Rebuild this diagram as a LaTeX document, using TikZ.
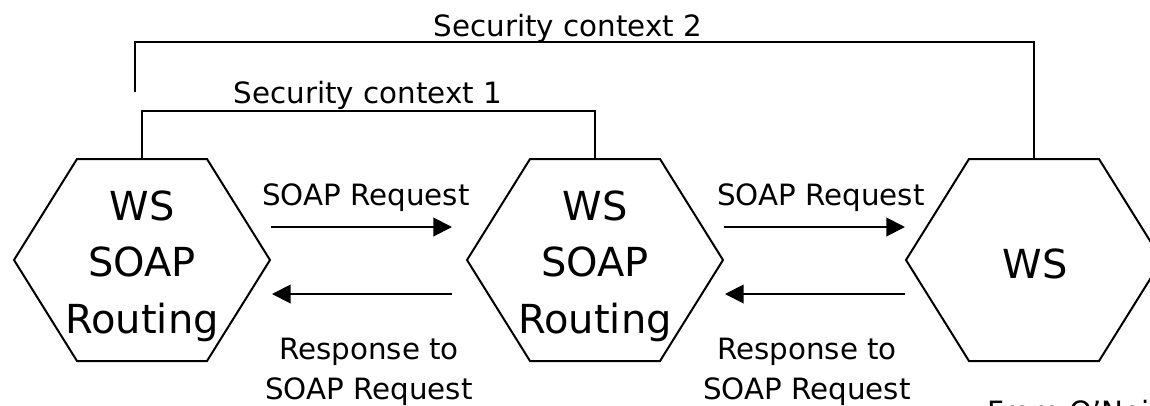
\documentclass[tikz,border=0pt]{standalone}
\usepackage{fontspec}
\setmainfont{DejaVu Sans}
\usetikzlibrary{arrows.meta,calc}
\begin{document}
\begin{tikzpicture}[x=0.75pt,y=-0.75pt,
  conn/.style={line width=1.5pt, line join=miter},
  hexline/.style={line width=1.5pt, line join=miter},
  hextext/.style={align=center, font=\fontsize{30}{42.4}\selectfont, inner sep=0pt},
  lbl/.style={font=\fontsize{22}{30}\selectfont, inner sep=0pt, align=center},
  flow/.style={line width=1.5pt, -{Triangle[length=14pt,width=14pt]}}]
\useasboundingbox (0,0) rectangle (1150,405);
% hexagon centres
\coordinate (c1) at (142,260);
\coordinate (c2) at (595,260);
\coordinate (c3) at (1034,260);
\foreach \c in {c1,c2,c3}
  \draw[hexline] ($(\c)+(-128,0)$) -- ++(63,-101) -- ++(130,0) -- ++(63,101)
     -- ++(-63,101) -- ++(-130,0) -- cycle;
\coordinate (top1) at ($(c1)+(0,-101)$);
\coordinate (top2) at ($(c2)+(0,-101)$);
\coordinate (top3) at ($(c3)+(0,-101)$);
% hexagon texts
\node[hextext] (t1) at (142,266) {WS\\SOAP\\Routing};
\node[hextext] (t2) at (595,266) {WS\\SOAP\\Routing};
\node[hextext, anchor=base] (t3) at (1035,278) {WS};
% security contexts
\coordinate (s2) at (135,92);
\draw[conn] (top1) -- ++(0,-48) -| (top2);
\draw[conn] (s2) -- ++(0,-50) -| (top3);
\node[lbl, anchor=base] (sc2) at (568,36) {Security context 2};
\node[lbl, anchor=base] (sc1) at (368,103) {Security context 1};
% message arrows
\coordinate (a1s) at (271,227); \coordinate (a1e) at (452,227);
\coordinate (b1s) at (452,294); \coordinate (b1e) at (272,294);
\coordinate (a2s) at (724,227); \coordinate (a2e) at (905,227);
\coordinate (b2s) at (905,294); \coordinate (b2e) at (725,294);
\draw[flow] (a1s) -- (a1e);
\draw[flow] (b1s) -- (b1e);
\draw[flow] (a2s) -- (a2e);
\draw[flow] (b2s) -- (b2e);
\node[lbl, anchor=base] (req1) at (366,205) {SOAP Request};
\node[lbl, anchor=base] (req2) at (821,205) {SOAP Request};
\node[lbl, anchor=base] (resp1) at (369,399) {Response to\\SOAP Request};
\node[lbl, anchor=base] (resp2) at (807,399) {Response to\\SOAP Request};
\node[lbl, anchor=base west] (src) at (987,422) {From O'Neill};
\end{tikzpicture}
\end{document}
